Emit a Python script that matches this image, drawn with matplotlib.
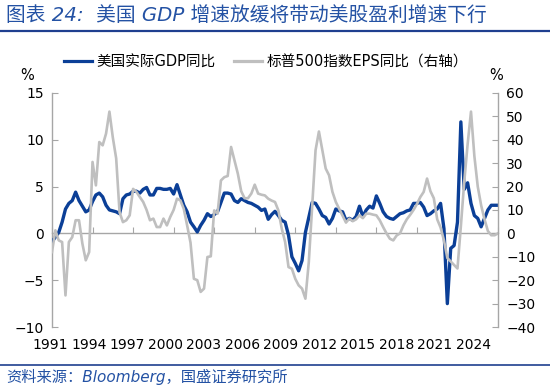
import numpy as np
import matplotlib
matplotlib.use("Agg")
import matplotlib.pyplot as plt
from matplotlib.lines import Line2D

plt.rcParams['font.family'] = ['DejaVu Sans', 'Noto Sans CJK SC']

# quarterly data, 1991Q1 .. 2024Q1
start_year = 1991
gdp_yoy = [
    -0.9, -0.4, 0.1, 1.2,     # 1991
    2.6, 3.2, 3.5, 4.4,       # 1992
    3.5, 2.9, 2.3, 2.5,       # 1993
    3.4, 4.1, 4.3, 3.9,       # 1994
    3.0, 2.5, 2.4, 2.3,       # 1995
    2.1, 3.7, 4.1, 4.2,       # 1996
    4.5, 4.5, 4.3, 4.7,       # 1997
    4.9, 4.1, 4.1, 4.8,       # 1998
    4.8, 4.7, 4.7, 4.8,       # 1999
    4.2, 5.2, 4.1, 3.0,       # 2000
    2.3, 1.2, 0.7, 0.15,      # 2001
    0.85, 1.4, 2.1, 1.8,      # 2002
    2.0, 2.3, 3.3, 4.3,       # 2003
    4.3, 4.2, 3.5, 3.3,       # 2004
    3.7, 3.5, 3.3, 3.2,       # 2005
    3.0, 2.8, 2.45, 2.6,      # 2006
    1.5, 2.0, 2.35, 1.9,      # 2007
    1.4, 1.2, -0.2, -2.5,     # 2008
    -3.2, -4.0, -2.9, 0.1,    # 2009
    1.7, 3.3, 3.2, 2.6,       # 2010
    1.9, 1.7, 1.0, 1.6,       # 2011
    2.6, 2.4, 2.3, 1.4,       # 2012
    1.6, 1.4, 1.8, 2.9,       # 2013
    1.8, 2.5, 2.9, 2.7,       # 2014
    4.0, 3.2, 2.3, 1.8,       # 2015
    1.6, 1.5, 1.8, 2.1,       # 2016
    2.2, 2.4, 2.5, 3.2,       # 2017
    3.2, 3.3, 2.8, 1.9,       # 2018
    2.1, 2.4, 2.6, 3.2,       # 2019
    0.5, -7.5, -1.6, -1.3,    # 2020
    1.2, 11.9, 4.7, 5.4,      # 2021
    3.2, 1.9, 1.6, 0.7,       # 2022
    1.6, 2.5, 3.0, 3.0,       # 2023
    3.0,                      # 2024
]
eps_yoy = [
    -8.0, 1.3, -3.0, -3.7,        # 1991
    -26.5, -3.7, -1.6, 5.6,       # 1992
    5.6, -4.4, -11.5, -8.0,       # 1993
    30.5, 20.5, 39.0, 37.6,       # 1994
    42.6, 52.0, 41.0, 32.0,       # 1995
    9.0, 4.8, 5.6, 7.7,           # 1996
    19.0, 17.7, 15.5, 13.4,       # 1997
    10.0, 5.6, 6.3, 2.7,          # 1998
    2.7, 6.3, 3.4, 7.0,           # 1999
    10.0, 14.8, 14.1, 10.5,       # 2000
    3.4, -4.0, -19.4, -20.0,      # 2001
    -25.0, -23.6, -10.1, -9.8,    # 2002
    9.8, 8.4, 22.6, 24.0,         # 2003
    24.5, 36.9, 31.2, 25.5,       # 2004
    18.0, 15.0, 15.0, 17.0,       # 2005
    20.8, 17.0, 16.5, 16.2,       # 2006
    14.8, 14.0, 13.4, 9.8,        # 2007
    2.0, -3.7, -14.4, -15.1,      # 2008
    -19.4, -22.2, -23.6, -27.9,   # 2009
    -12.3, 12.0, 35.5, 43.5,      # 2010
    35.7, 27.7, 24.8, 17.7,       # 2011
    13.4, 10.5, 7.7, 4.6,         # 2012
    6.3, 5.2, 6.0, 7.7,           # 2013
    6.5, 8.4, 8.4, 8.0,           # 2014
    7.7, 5.6, 2.7, 0.0,           # 2015
    -2.3, -3.0, -0.9, 0.0,        # 2016
    3.4, 6.0, 7.9, 10.0,          # 2017
    12.5, 15.5, 17.7, 23.4,       # 2018
    18.0, 15.0, 6.0, 2.5,         # 2019
    -3.0, -10.5, -12.0, -13.5,    # 2020
    -15.0, 3.0, 22.0, 38.0,       # 2021
    52.0, 33.0, 20.0, 12.0,       # 2022
    6.0, 1.0, -0.8, -0.8,         # 2023
    0.0,                          # 2024
]
year_labels = [str(y) for y in range(1991, 2025, 3)]
left_ticks = [-10, -5, 0, 5, 10, 15]
right_ticks = [-40, -30, -20, -10, 0, 10, 20, 30, 40, 50, 60]

t = start_year + np.arange(len(gdp_yoy)) / 4.0

blue = '#0B3F97'
grey = '#BFBFBF'
axis_grey = '#A6A6A6'
title_blue = '#2452A4'

fig = plt.figure(figsize=(5.5, 3.87), dpi=100)
ax = fig.add_axes([0.0945, 0.155, 0.811, 0.605])
ax2 = ax.twinx()

ax.plot(t, gdp_yoy, color=blue, lw=2.4, solid_joinstyle='round', zorder=3)
ax2.plot(t, eps_yoy, color=grey, lw=1.9, solid_joinstyle='round')

ax.set_xlim(1991, 2024)
ax.set_ylim(-10, 15)
ax2.set_ylim(-40, 60)
ax.set_yticks(left_ticks)
ax2.set_yticks(right_ticks)

for a in (ax, ax2):
    a.spines['top'].set_visible(False)
    for s in ('left', 'right', 'bottom'):
        a.spines[s].set_color(axis_grey)
        a.spines[s].set_linewidth(1.0)
    a.tick_params(axis='y', direction='in', length=4, color=axis_grey,
                  labelsize=10, pad=6)
ax2.spines['bottom'].set_visible(False)
ax2.spines['left'].set_visible(False)
ax.spines['right'].set_visible(False)

# category axis crosses at zero, labels sit below the plot
ax.spines['bottom'].set_position(('data', 0))
ax.set_xticks(np.arange(1991, 2025, 3))
ax.tick_params(axis='x', direction='in', length=4, color=axis_grey,
               labelbottom=False)
for i, lab in enumerate(year_labels):
    ax.text(-0.004 + i * 0.0862, -0.045, lab, transform=ax.transAxes,
            ha='center', va='top', fontsize=10)

fig.text(27 / 550, 1 - 75 / 387, '%', ha='center', va='center', fontsize=10.5)
fig.text(496 / 550, 1 - 75 / 387, '%', ha='center', va='center', fontsize=10.5)

handles = [Line2D([], [], color=blue, lw=2.3),
           Line2D([], [], color=grey, lw=2.3)]
fig.legend(handles, ['美国实际GDP同比', '标普500指数EPS同比（右轴）'],
           loc='center left', bbox_to_anchor=(64 / 550, 1 - 62 / 387),
           ncol=2, frameon=False, fontsize=10.5, handlelength=1.9,
           handletextpad=0.3, columnspacing=1.3, borderpad=0, borderaxespad=0)

# title, rules and source
fig.text(6 / 550, 1 - 15 / 387, '图表 24:  美国 GDP 增速放缓将带动美股盈利增速下行',
         ha='left', va='center', fontsize=14.2, style='italic', color=title_blue)
fig.add_artist(Line2D([0, 1], [1 - 31 / 387] * 2, color='#1F3F8F', lw=1.6))
fig.add_artist(Line2D([0, 1], [1 - 365 / 387] * 2, color='#1F3F8F', lw=1.2))
fig.text(6 / 550, 1 - 377 / 387, '资料来源：Bloomberg，国盛证券研究所',
         ha='left', va='center', fontsize=11, style='italic', color=title_blue)

fig.savefig('out.png', dpi=100)
